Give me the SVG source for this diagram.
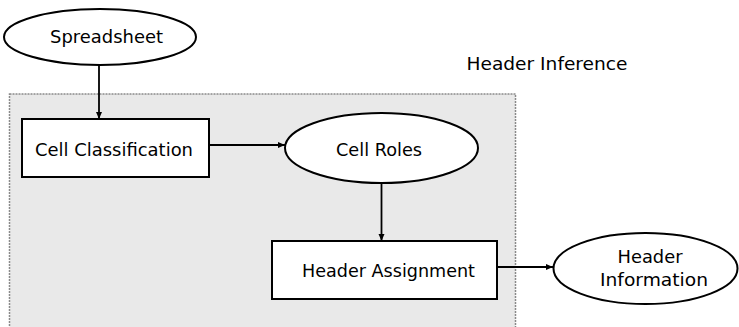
<svg xmlns="http://www.w3.org/2000/svg" width="739" height="327" viewBox="0 0 739 327">
  <defs>
    <marker id="arrow" markerWidth="8" markerHeight="8" refX="7" refY="4" orient="auto" markerUnits="userSpaceOnUse">
      <path d="M0,1 L7,4 L0,7 z" fill="#000"/>
    </marker>
    <style>
      .node-shape { fill: #fff; stroke: #000; stroke-width: 2; }
      .label { font-family: "DejaVu Sans", "Liberation Sans", sans-serif; font-size: 17px; fill: #000; text-anchor: middle; dominant-baseline: central; }
      .edge { fill: none; stroke: #000; stroke-width: 1.8; marker-end: url(#arrow); }
      .region { fill: #e9e9e9; stroke: #8a8a8a; stroke-width: 1.5; stroke-dasharray: 2 1; }
    </style>
  </defs>

  <rect width="739" height="327" fill="#fff"/>

  <!-- Header inference stage -->
  <g id="header-inference">
    <rect class="region" x="9.5" y="94" width="506" height="240"/>
    <text class="label" x="547" y="64" textLength="161" lengthAdjust="spacingAndGlyphs">Header Inference</text>
  </g>

  <g id="connectors">
    <line class="edge" x1="99" y1="65" x2="99" y2="119"/>
    <line class="edge" x1="209" y1="145" x2="285" y2="145"/>
    <line class="edge" x1="381.5" y1="183" x2="381.5" y2="241"/>
    <line class="edge" x1="497" y1="267" x2="553" y2="267"/>
  </g>

  <g id="spreadsheet">
    <ellipse class="node-shape" cx="100" cy="37" rx="96" ry="28"/>
    <text class="label" x="106.5" y="37" textLength="113" lengthAdjust="spacingAndGlyphs">Spreadsheet</text>
  </g>

  <g id="cell-classification">
    <rect class="node-shape" x="22" y="119" width="187" height="58"/>
    <text class="label" x="114" y="150" textLength="158" lengthAdjust="spacingAndGlyphs">Cell Classification</text>
  </g>

  <g id="cell-roles">
    <ellipse class="node-shape" cx="381.5" cy="148" rx="96.5" ry="35"/>
    <text class="label" x="379" y="150" textLength="86" lengthAdjust="spacingAndGlyphs">Cell Roles</text>
  </g>

  <g id="header-assignment">
    <rect class="node-shape" x="272" y="241" width="225" height="58"/>
    <text class="label" x="388.5" y="271" textLength="173" lengthAdjust="spacingAndGlyphs">Header Assignment</text>
  </g>

  <g id="header-information">
    <ellipse class="node-shape" cx="645.5" cy="268.5" rx="92" ry="35.5"/>
    <text class="label" x="650" y="257" textLength="65" lengthAdjust="spacingAndGlyphs">Header</text>
    <text class="label" x="654" y="280" textLength="108" lengthAdjust="spacingAndGlyphs">Information</text>
  </g>
</svg>
